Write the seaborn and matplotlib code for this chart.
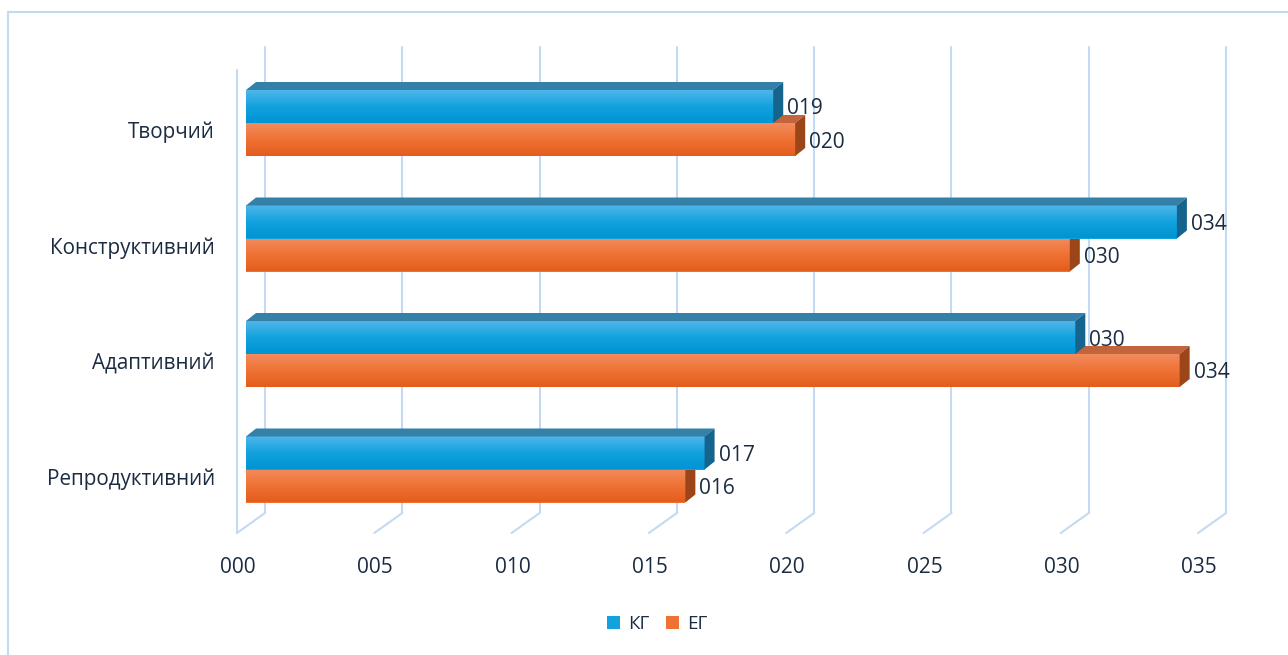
import numpy as np
import pandas as pd
import matplotlib
matplotlib.use("Agg")
import matplotlib.pyplot as plt
from matplotlib.patches import Polygon, Rectangle
from matplotlib.lines import Line2D
from matplotlib.colors import LinearSegmentedColormap
import seaborn as sns

# ---- data -------------------------------------------------------------
levels = ["Творчий", "Конструктивний", "Адаптивний", "Репродуктивний"]
kg_values = [19.2, 33.9, 30.2, 16.7]
eg_values = [20.0, 30.0, 34.0, 16.0]
groups = ["КГ", "ЕГ"]
tick_values = [0, 5, 10, 15, 20, 25, 30, 35]

df = pd.DataFrame({
    "level": levels * 2,
    "value": kg_values + eg_values,
    "group": [groups[0]] * len(levels) + [groups[1]] * len(levels),
})

# ---- styling ----------------------------------------------------------
sns.set_theme(style="white")
plt.rcParams["font.family"] = ["Open Sans", "DejaVu Sans"]

W, H = 1288, 655
PX = 27.46        # pixels per value unit
ROW = 115.5       # pixels per category row
X0 = 246          # pixel position of value 0 (bar front face)
Y0 = 123          # pixel position of first category centre

TEXT = "#1b2c42"
GRID = "#c4daf3"
BLUE_TOP, BLUE_MID, BLUE_BOT = "#4fb6ea", "#12a2de", "#0094d4"
ORNG_TOP, ORNG_MID, ORNG_BOT = "#f28b5d", "#ef7234", "#e35d1d"
BLUE_LID, BLUE_SIDE = "#3580a9", "#15648e"
ORNG_LID, ORNG_SIDE = "#c2643c", "#9b4518"

DEPTH_X, DEPTH_Y = 10, 8          # bar depth (px)
WALL_X, WALL_Y = 28, 20           # wall depth (px)


def dx(px):
    return px / PX


def dy(px):
    return px / ROW


fig = plt.figure(figsize=(W / 100, H / 100), dpi=100)
ax = fig.add_axes([0, 0, 1, 1])

sns.barplot(data=df, x="value", y="level", hue="group", orient="h",
            order=levels, hue_order=groups,
            palette=[BLUE_MID, ORNG_MID], saturation=1,
            width=66 / ROW, linewidth=0, legend=False, ax=ax)

xlim = (-X0 / PX, (W - X0) / PX)
ylim = ((H - Y0) / ROW, -Y0 / ROW)

# ---- walls and grid ---------------------------------------------------
y_back_top = dy(47 - Y0)
y_back_bot = dy(513 - Y0)
y_front_bot = dy(533 - Y0)
for v in tick_values:
    xb = v + dx(WALL_X - 9)
    xf = v + dx(-9)
    ax.add_line(Line2D([xb, xb], [y_back_top, y_back_bot], color=GRID, lw=1.5, zorder=1))
    ax.add_line(Line2D([xb, xf], [y_back_bot, y_front_bot], color=GRID, lw=1.5, zorder=1))
# front edge of the side wall
ax.add_line(Line2D([dx(-9), dx(-9)], [dy(70 - Y0), y_front_bot], color=GRID, lw=1.5, zorder=1))


def gradient_cmap(c1, c2, c3):
    return LinearSegmentedColormap.from_list("g", [c1, c2, c3])


grad = np.linspace(0, 1, 64).reshape(-1, 1)
styles = [
    (gradient_cmap(BLUE_TOP, BLUE_MID, BLUE_BOT), BLUE_LID, BLUE_SIDE, 4),
    (gradient_cmap(ORNG_TOP, ORNG_MID, ORNG_BOT), ORNG_LID, ORNG_SIDE, 2),
]

for container, vals, (cmap, lid, side, z) in zip(ax.containers, [kg_values, eg_values], styles):
    for bar, v in zip(container.patches, vals):
        x0 = bar.get_x()
        x1 = x0 + bar.get_width()
        yt = bar.get_y()
        yb = yt + bar.get_height()
        bar.set_zorder(z)
        ax.imshow(grad, cmap=cmap, extent=(x0, x1, yb, yt), aspect="auto",
                  interpolation="bilinear", zorder=z + 0.1)
        ddx, ddy = dx(DEPTH_X), dy(DEPTH_Y)
        ax.add_patch(Polygon([(x0, yt), (x0 + ddx, yt - ddy), (x1 + ddx, yt - ddy), (x1, yt)],
                             closed=True, facecolor=lid, edgecolor="none", zorder=z + 0.2))
        ax.add_patch(Polygon([(x1, yt), (x1 + ddx, yt - ddy), (x1 + ddx, yb - ddy), (x1, yb)],
                             closed=True, facecolor=side, edgecolor="none", zorder=z + 0.2))
        ax.text(x1 + dx(DEPTH_X + 4), (yt + yb) / 2 + dy(8), f"{v:03.0f}",
                ha="left", va="baseline", fontsize=15, color=TEXT, zorder=6)

# ---- axis texts -------------------------------------------------------
for i, name in enumerate(levels):
    ax.text(dx(215 - X0), i + dy(15.4), name, ha="right", va="baseline",
            fontsize=14.9, color=TEXT)

for v in tick_values:
    ax.text(v + dx(-8), dy(573 - Y0), f"{v:03d}", ha="center", va="baseline",
            fontsize=15, color=TEXT)

ax.set_xlim(*xlim)
ax.set_ylim(*ylim)
ax.axis("off")

# ---- legend -----------------------------------------------------------
handles = [Rectangle((0, 0), 1, 1, facecolor=BLUE_MID, edgecolor="none"),
           Rectangle((0, 0), 1, 1, facecolor=ORNG_MID, edgecolor="none")]
fig.legend(handles, groups, loc="center", bbox_to_anchor=(657 / W, 31 / H),
           ncol=2, frameon=False, fontsize=13.5, handlelength=0.72, handleheight=0.72,
           handletextpad=0.4, columnspacing=0.9, labelcolor=TEXT)

# ---- chart frame ------------------------------------------------------
fig.add_artist(Line2D([8 / W, 8 / W], [1 - 12 / H, -0.01], transform=fig.transFigure,
                      color=GRID, lw=1.5))
fig.add_artist(Line2D([8 / W, 1.01], [1 - 12 / H, 1 - 12 / H], transform=fig.transFigure,
                      color=GRID, lw=1.5))

fig.savefig("out.png", dpi=100)
